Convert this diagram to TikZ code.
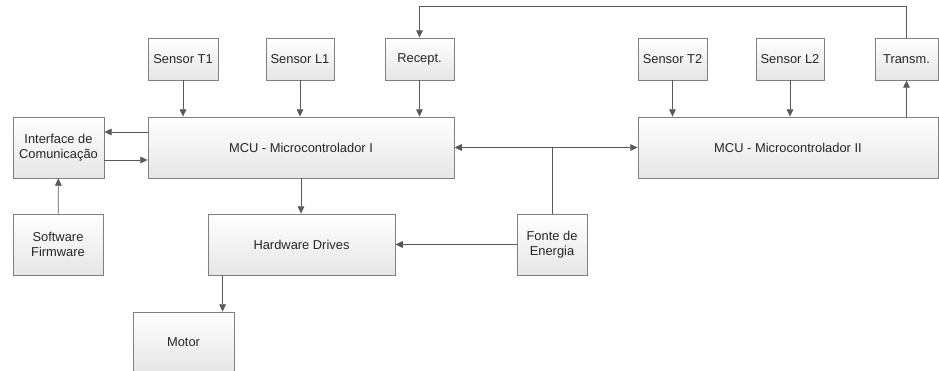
\documentclass[tikz,border=0pt]{standalone}
\usepackage{fontspec}
\setmainfont{Liberation Sans}
\usetikzlibrary{calc,arrows.meta}
\definecolor{linha}{HTML}{595959}
\definecolor{borda}{HTML}{808080}
\definecolor{fundo}{HTML}{E6E6E6}
\begin{document}
\begin{tikzpicture}[x=0.03cm, y=-0.03cm, >={Triangle[length=2.2mm,width=2mm]}, line width=0.7pt,
	bloco/.style={draw=borda, top color=white, bottom color=fundo, inner sep=1pt, align=center,
		text=black!85, font=\fontsize{11}{13}\selectfont, minimum height=1.83cm},
	sensor/.style={bloco, minimum height=1.26cm},
	seta/.style={draw=linha, ->}]
		\useasboundingbox (0,0) rectangle (939,371);
		\node[sensor, minimum width=2.1cm] (T1) at (183,59) {Sensor T1};
		\node[sensor, minimum width=2.04cm] (L1) at (300,59) {Sensor L1};
		\node[sensor, minimum width=2.07cm] (Rx) at (419.5,59) {Recept.};
		\node[sensor, minimum width=2.07cm] (T2) at (672.5,59) {Sensor T2};
		\node[sensor, minimum width=2.04cm] (L2) at (790,59) {Sensor L2};
		\node[sensor, minimum width=1.89cm] (Tx) at (906.5,59) {Transm.};
		\node[bloco, minimum width=9.18cm] (MCU1) at (301,147.5) {MCU - Microcontrolador I};
		\node[bloco, minimum width=9cm] (MCU2) at (788,147.5) {MCU - Microcontrolador II};
		\node[bloco, minimum width=2.73cm] (IC) at (58.5,147.5) {Interface de\\Comunicação};
		\node[bloco, minimum width=2.7cm] (SW) at (58,244.5) {Software\\Firmware};
		\node[bloco, minimum width=5.61cm] (HW) at (301.5,244.5) {Hardware Drives};
		\node[bloco, minimum width=2.1cm] (FE) at (552,244.5) {Fonte de\\Energia};
		\node[bloco, minimum width=3.03cm] (M) at (183.5,342.5) {Motor};
		\coordinate (topo) at (0,6);
		\draw[seta](T1) to (T1 |- MCU1.north);
		\draw[seta](L1) to (L1 |- MCU1.north);
		\draw[seta](Rx) to (Rx |- MCU1.north);
		\draw[seta](T2) to (T2 |- MCU2.north);
		\draw[seta](L2) to (L2 |- MCU2.north);
		\draw[seta](MCU2.north -| Tx) to (Tx);
		\draw[seta](Tx.north) |- (topo -| Rx) -- (Rx);
		\draw[seta]($(MCU1.west)+(0,-15.5)$) to ($(IC.east)+(0,-15.5)$);
		\draw[seta]($(IC.east)+(0,12.5)$) to ($(MCU1.west)+(0,12.5)$);
		\draw[seta](SW) to (IC);
		\draw[seta](MCU1) to (MCU1.south |- HW.north);
		\draw[seta](FE) to (HW);
		\draw[draw=linha](FE.north) to (FE.north |- MCU1.east);
		\draw[seta, <->](MCU1.east) to (MCU2.west);
		\draw[seta]($(HW.south west)+(15,0)$) to ($(HW.south west |- M.north)+(15,0)$);
\end{tikzpicture}
\end{document}
